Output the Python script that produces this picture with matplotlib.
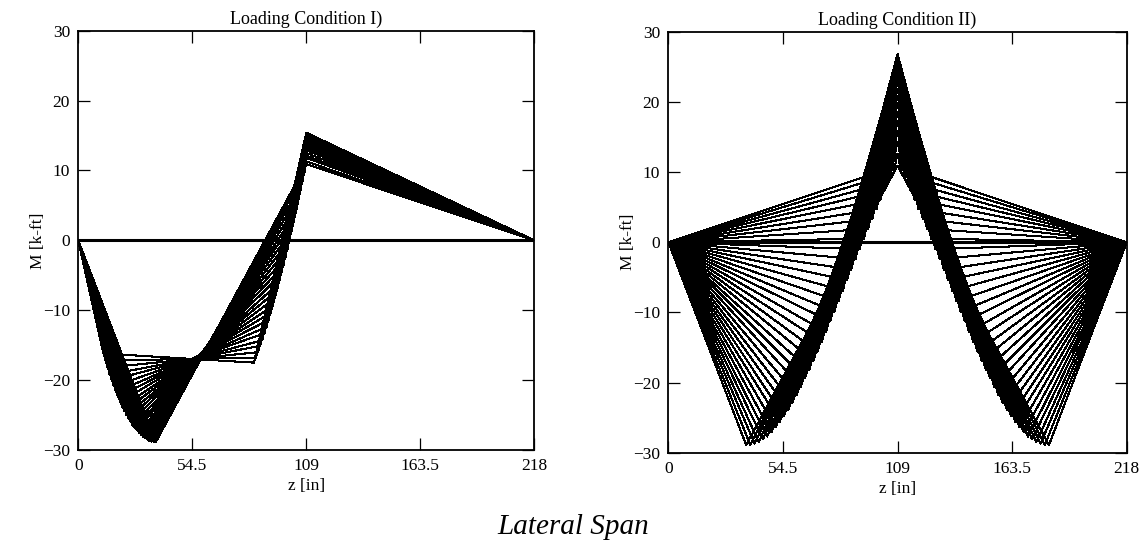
import matplotlib.pyplot as plt

plt.rcParams['font.family'] = ['Liberation Serif', 'DejaVu Serif']

# deck geometry [in]
span_ends = [0, 109, 218]
z_ticks = [0, 54.5, 109, 163.5, 218]
z_tick_labels = ["0", "54.5", "109", "163.5", "218"]
m_ticks = [-30, -20, -10, 0, 10, 20, 30]

# Loading Condition I: both wheels of one truck in the first span
rear_pos_1 = [12, 13, 14, 15, 16, 17, 18, 19, 20, 21, 22, 23, 24,
              25, 26, 27, 28, 29, 30, 31, 32, 33, 34, 35, 36, 37]
front_pos_1 = [84, 85, 86, 87, 88, 89, 90, 91, 92, 93, 94, 95, 96,
               97, 98, 99, 100, 101, 102, 103, 104, 105, 106, 107, 108, 109]
m_rear_1 = [-16.2, -17.2, -18.2, -19.2, -20.0, -20.9, -21.7, -22.4, -23.1, -23.8, -24.4, -25.0, -25.5,
            -26.0, -26.5, -26.9, -27.2, -27.6, -27.9, -28.1, -28.3, -28.5, -28.7, -28.8, -28.8, -28.9]
m_front_1 = [-17.5, -16.8, -16.0, -15.1, -14.3, -13.3, -12.4, -11.4, -10.4, -9.4, -8.3, -7.2, -6.1,
             -4.9, -3.7, -2.5, -1.3, 0.0, 1.3, 2.6, 3.9, 5.3, 6.7, 8.1, 9.5, 10.9]
m_supp_1 = [15.3, 15.4, 15.4, 15.4, 15.4, 15.4, 15.4, 15.3, 15.3, 15.2, 15.1, 14.9, 14.8,
            14.6, 14.4, 14.2, 14.0, 13.7, 13.5, 13.2, 12.9, 12.5, 12.1, 11.8, 11.3, 10.9]

# Loading Condition II: truck straddling the middle support
rear_pos_2 = [37, 39, 41, 43, 45, 47, 49, 51, 53, 55, 57, 59, 61, 63, 65, 67, 69, 71, 73,
              75, 77, 79, 81, 83, 85, 87, 89, 91, 93, 95, 97, 99, 101, 103, 105, 107, 109]
front_pos_2 = [109, 111, 113, 115, 117, 119, 121, 123, 125, 127, 129, 131, 133, 135, 137, 139, 141, 143, 145,
               147, 149, 151, 153, 155, 157, 159, 161, 163, 165, 167, 169, 171, 173, 175, 177, 179, 181]
m_rear_2 = [-28.9, -28.9, -28.7, -28.5, -28.1, -27.7, -27.1, -26.4, -25.6, -24.8, -23.9, -22.9, -21.8,
            -20.6, -19.4, -18.2, -16.9, -15.6, -14.2, -12.8, -11.3, -9.9, -8.4, -6.9, -5.4, -3.9,
            -2.4, -1.0, 0.5, 1.9, 3.3, 4.7, 6.1, 7.4, 8.6, 9.8, 10.9]
m_supp_2 = [10.9, 12.6, 14.3, 15.8, 17.2, 18.5, 19.8, 20.9, 21.9, 22.9, 23.7, 24.4, 25.1, 25.6, 26.1,
            26.4, 26.6, 26.8, 26.8, 26.8, 26.6, 26.4, 26.1, 25.6, 25.1, 24.4, 23.7, 22.9, 21.9, 20.9,
            19.8, 18.5, 17.2, 15.8, 14.3, 12.6, 10.9]
m_front_2 = [10.9, 9.8, 8.6, 7.4, 6.1, 4.7, 3.3, 1.9, 0.5, -1.0, -2.4, -3.9, -5.4, -6.9, -8.4, -9.9,
             -11.3, -12.8, -14.2, -15.6, -16.9, -18.2, -19.4, -20.6, -21.8, -22.9, -23.9, -24.8,
             -25.6, -26.4, -27.1, -27.7, -28.1, -28.5, -28.7, -28.9, -28.9]

fig = plt.figure(figsize=(11.46, 5.52), dpi=100)
ax1 = fig.add_axes([0.0683, 0.1848, 0.3979, 0.7596])
ax2 = fig.add_axes([0.5832, 0.1799, 0.4000, 0.7627])

line_kw = dict(color='black', lw=0.75, antialiased=False)

for zr, zf, mr, mf, ms in zip(rear_pos_1, front_pos_1, m_rear_1, m_front_1, m_supp_1):
    ax1.plot([span_ends[0], zr, zf, span_ends[1], span_ends[2]], [0, mr, mf, ms, 0], **line_kw)

for zr, zf, mr, mf, ms in zip(rear_pos_2, front_pos_2, m_rear_2, m_front_2, m_supp_2):
    ax2.plot([span_ends[0], zr, span_ends[1], zf, span_ends[2]], [0, mr, ms, mf, 0], **line_kw)

for ax, title in [(ax1, "Loading Condition I)"), (ax2, "Loading Condition II)")]:
    ax.axhline(0, color='black', lw=2.2)
    ax.set_xlim(span_ends[0], span_ends[2])
    ax.set_ylim(-30, 30)
    ax.set_xticks(z_ticks)
    ax.set_xticklabels(z_tick_labels)
    ax.set_yticks(m_ticks)
    ax.tick_params(direction='in', length=8.5, width=0.9, top=True, right=True,
                   labelsize=12.5, pad=6)
    for sp in ax.spines.values():
        sp.set_linewidth(1.3)
    ax.set_title(title, fontsize=13, pad=5)
    ax.set_xlabel("z [in]", fontsize=12.5, labelpad=3)
    ax.set_ylabel("M [k-ft]", fontsize=12.5, labelpad=-2)

fig.text(0.5, 0.045, "Lateral Span", fontsize=21, style='italic', ha='center', va='center')

fig.savefig("out.png", dpi=100)
